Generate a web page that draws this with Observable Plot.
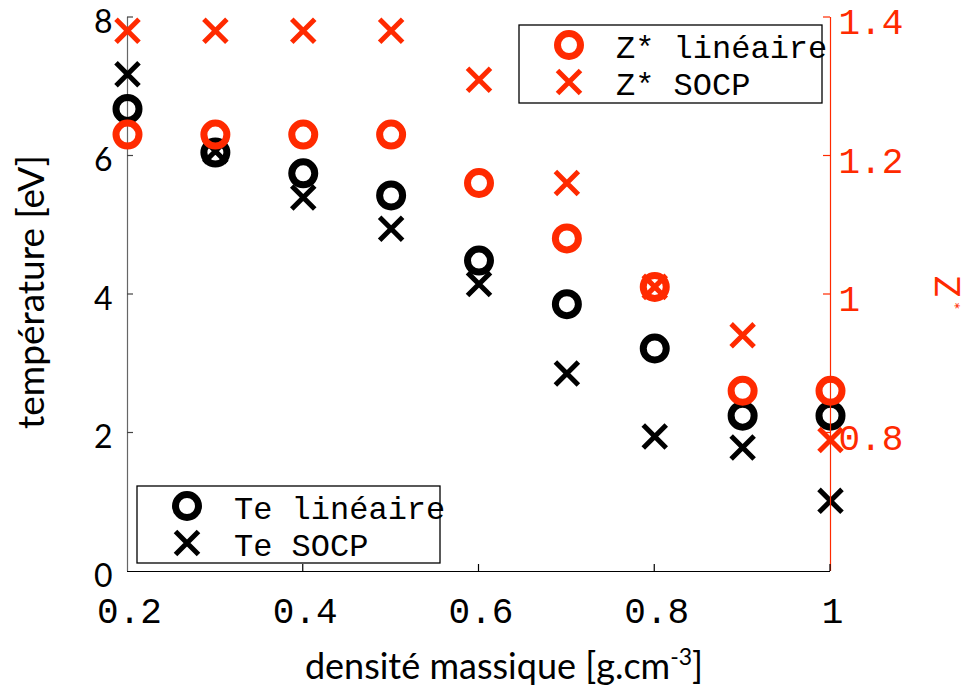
<!DOCTYPE html>
<html>
<head>
<meta charset="utf-8">
<script src="https://cdn.jsdelivr.net/npm/d3@7"></script>
<script src="https://cdn.jsdelivr.net/npm/@observablehq/plot@0.6"></script>
<style>
  html, body { margin: 0; padding: 0; background: white; }
  #chart { width: 971px; height: 694px; }
</style>
</head>
<body>
<div id="chart"></div>
<script>
// ---- data ----
const density = [0.2, 0.3, 0.4, 0.5, 0.6, 0.7, 0.8, 0.9, 1.0];
const teLineaire = [6.68, 6.05, 5.75, 5.43, 4.49, 3.86, 3.22, 2.25, 2.25];
const teSocp = [7.18, 6.07, 5.40, 4.95, 4.15, 2.86, 1.95, 1.79, 1.02];
const zLineaire = [1.231, 1.231, 1.231, 1.231, 1.161, 1.081, 1.011, 0.861, 0.861];
const zSocp = [1.381, 1.381, 1.381, 1.381, 1.31, 1.161, 1.011, 0.941, 0.79];
const xTicks = [0.2, 0.4, 0.6, 0.8, 1];
const yTicks = [0, 2, 4, 6, 8];
const zTicks = [0.8, 1, 1.2, 1.4];
const legendTe = ["Te linéaire", "Te SOCP"];
const legendZ = ["Z* linéaire", "Z* SOCP"];

const RED = "#ff2a00";
const MONO = "'Liberation Mono', 'DejaVu Sans Mono', monospace";
const SANS = "Lato, 'Open Sans', sans-serif";

// right axis Z* (0.6..1.4) is aligned with left axis T (0..8)
const zToT = z => (z - 0.6) * 10;
const tToZ = t => Math.round((t / 10 + 0.6) * 10) / 10;

const rows = density.map((d, i) => ({
  d, teLin: teLineaire[i], teSocp: teSocp[i], zLin: zLineaire[i], zSocp: zSocp[i]
}));

const plot = Plot.plot({
  width: 971,
  height: 694,
  marginLeft: 127,
  marginRight: 141,
  marginTop: 17,
  marginBottom: 123,
  style: { background: "white", fontFamily: SANS, overflow: "visible" },
  x: { domain: [0.2, 1] },
  y: { domain: [0, 8] },
  marks: [
    Plot.axisX(xTicks, {
      tickSize: 0, tickPadding: 26, fontSize: 36, fontFamily: MONO, dx: 2,
      tickFormat: d => d === 1 ? "1" : String(d), label: null
    }),
    Plot.axisY(yTicks, {
      anchor: "left", tickSize: 0, tickPadding: 15, fontSize: 32, fontFamily: SANS, dy: 5,
      tickFormat: d => String(d), label: null
    }),
    Plot.axisY(zTicks.map(zToT), {
      anchor: "right", tickSize: 0, tickPadding: 8, fontSize: 36, fontFamily: MONO, dy: 5,
      color: RED, tickFormat: t => { const z = tToZ(t); return z === 1 ? "1" : String(z); }, label: null
    }),
    Plot.ruleX([0.2], { stroke: "#666", strokeWidth: 1.2 }),
    Plot.ruleY([0], { stroke: "black", strokeWidth: 1.2 }),
    Plot.dot(rows, { x: "d", y: "teLin", symbol: "circle", r: 11.5, stroke: "black", strokeWidth: 7, fill: "none" }),
    Plot.dot(rows, { x: "d", y: "teSocp", symbol: "times", r: 10.5, stroke: "black", strokeWidth: 5 }),
    Plot.dot(rows, { x: "d", y: d => zToT(d.zLin), symbol: "circle", r: 11.5, stroke: RED, strokeWidth: 7, fill: "none" }),
    Plot.dot(rows, { x: "d", y: d => zToT(d.zSocp), symbol: "times", r: 10.5, stroke: RED, strokeWidth: 5 }),
    Plot.ruleX([1], { stroke: RED, strokeWidth: 1.2 })
  ]
});

document.getElementById("chart").appendChild(plot);

// ---- decorations: inward ticks, titles, legends ----
const svg = d3.select(plot);
const xs = plot.scale("x"), ys = plot.scale("y");
const X0 = xs.apply(0.2), X1 = xs.apply(1), Y0 = ys.apply(0);
const deco = svg.append("g").attr("text-anchor", "start");

// x ticks (inward)
xTicks.slice(1).forEach(v => {
  deco.append("line").attr("x1", xs.apply(v)).attr("x2", xs.apply(v))
    .attr("y1", Y0).attr("y2", Y0 - 7).attr("stroke", "black").attr("stroke-width", 1.2);
});
// left y ticks (inward)
yTicks.slice(1).forEach(v => {
  deco.append("line").attr("x1", X0).attr("x2", X0 + 6)
    .attr("y1", ys.apply(v)).attr("y2", ys.apply(v)).attr("stroke", "#444").attr("stroke-width", 1.2);
});
// right z ticks (inward)
zTicks.forEach(z => {
  const yy = ys.apply(zToT(z));
  deco.append("line").attr("x1", X1).attr("x2", X1 - 7)
    .attr("y1", yy).attr("y2", yy).attr("stroke", RED).attr("stroke-width", 1.2);
});

// axis titles
const xt = deco.append("text").attr("x", 504).attr("y", 679)
  .attr("text-anchor", "middle").attr("font-family", SANS).attr("font-size", 36).attr("fill", "black");
xt.append("tspan").text("densité massique [g.cm");
xt.append("tspan").attr("dy", -14).attr("font-size", 23).text("-3");
xt.append("tspan").attr("dy", 14).text("]");

deco.append("text")
  .attr("transform", `translate(44, 292) rotate(-90)`)
  .attr("text-anchor", "middle").attr("font-family", SANS).attr("font-size", 37).attr("fill", "black")
  .text("température [eV]");

const zt = deco.append("text")
  .attr("transform", `translate(935, 276) rotate(90)`)
  .attr("text-anchor", "start").attr("font-family", SANS).attr("font-size", 35).attr("fill", RED);
zt.append("tspan").text("Z");
zt.append("tspan").attr("dy", -12).attr("dx", 5).attr("font-size", 18).text("*");

// legends
function legend(x, y, w, h, color, labels) {
  const g = deco.append("g");
  g.append("rect").attr("x", x).attr("y", y).attr("width", w).attr("height", h)
    .attr("fill", "white").attr("stroke", "black").attr("stroke-width", 1.3);
  g.append("circle").attr("cx", x + 50).attr("cy", y + 20).attr("r", 11.5)
    .attr("fill", "none").attr("stroke", color).attr("stroke-width", 7);
  const cy = y + 57, h2 = 11.5;
  g.append("path").attr("d", `M${x + 50 - h2},${cy - h2}L${x + 50 + h2},${cy + h2}M${x + 50 - h2},${cy + h2}L${x + 50 + h2},${cy - h2}`)
    .attr("stroke", color).attr("stroke-width", 5).attr("fill", "none");
  labels.forEach((t, i) => {
    g.append("text").attr("x", x + 97).attr("y", y + 33 + i * 37)
      .attr("text-anchor", "start")
      .attr("font-family", MONO).attr("font-size", 32).attr("fill", "black")
      .attr("xml:space", "preserve").style("white-space", "pre").text(t);
  });
}
legend(519, 25, 303, 78, RED, legendZ);
legend(137, 486, 303, 77, "black", legendTe);
</script>
</body>
</html>
